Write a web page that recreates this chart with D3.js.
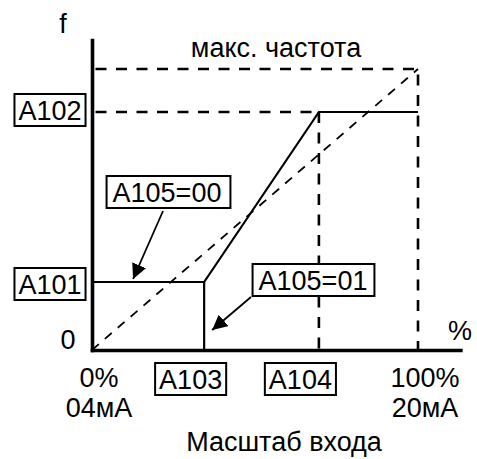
<!DOCTYPE html>
<html>
<head>
<meta charset="utf-8">
<script src="https://cdn.jsdelivr.net/npm/d3@7"></script>
<style>
  html, body { margin: 0; padding: 0; background: #fff; }
  svg { display: block; }
  text { font-family: "Liberation Sans", Arial, sans-serif; font-size: 27px; fill: #000; }
</style>
</head>
<body>
<svg id="chart" width="477" height="459"></svg>
<script>
// Input scale in percent, output frequency in percent of the maximum frequency
const inputParams = ["A103", "A104"];
const inputValues = [34.4, 69.6];
const freqParams = ["A101", "A102"];
const freqValues = [24.2, 84.7];
const maxInput = 100;
const maxFreq = 100;
const inputTickLabels = [["0%", "04мА"], ["100%", "20мА"]];
const modeLabels = ["A105=00", "A105=01"];

const svg = d3.select("#chart");
const x = d3.scaleLinear().domain([0, maxInput]).range([92, 418]);
const y = d3.scaleLinear().domain([0, maxFreq]).range([350, 69]);

const [a103, a104] = inputValues;
const [a101, a102] = freqValues;

// Reference lines (dashed)
const dashed = svg.append("g").attr("fill", "none").attr("stroke", "#000");
const line = d3.line().x(d => x(d[0])).y(d => y(d[1]));
dashed.append("path")
  .attr("d", line([[0, maxFreq], [maxInput, maxFreq], [maxInput, 0]]))
  .attr("stroke-width", 2.6).attr("stroke-dasharray", "11,9.5").attr("stroke-dashoffset", 17);
dashed.append("path")
  .attr("d", line([[0, a102], [a104, a102]]))
  .attr("stroke-width", 2.6).attr("stroke-dasharray", "11,9.5").attr("stroke-dashoffset", 17);
dashed.append("path")
  .attr("d", line([[a104, a102], [a104, 0]]))
  .attr("stroke-width", 2.6).attr("stroke-dasharray", "11,9.5").attr("stroke-dashoffset", 0);
// Proportional characteristic 0..100%
dashed.append("path")
  .attr("d", line([[0, 0], [maxInput, maxFreq]]))
  .attr("stroke-width", 1.8).attr("stroke-dasharray", "9,8");

// Characteristic curve (solid)
const solid = svg.append("g").attr("fill", "none").attr("stroke", "#000").attr("stroke-width", 2.2);
solid.append("path").attr("d", line([[0, a101], [a103, a101], [a104, a102], [maxInput, a102]]));
solid.append("path").attr("d", line([[a103, a101], [a103, 0]]));

// Axes extend slightly past the 100% marks
const xAxisScale = d3.scaleLinear().domain([0, 113]).range([x(0), x(113)]);
const yAxisScale = d3.scaleLinear().domain([0, 110.3]).range([y(0), y(110.3)]);
svg.append("g").attr("transform", `translate(0,${y(0)})`)
  .call(d3.axisBottom(xAxisScale).tickValues([]).tickSizeOuter(0))
  .call(g => g.select(".domain").attr("stroke-width", 3.6).attr("stroke-linecap", "square"));
svg.append("g").attr("transform", `translate(${x(0)},0)`)
  .call(d3.axisLeft(yAxisScale).tickValues([]).tickSizeOuter(0))
  .call(g => g.select(".domain").attr("stroke-width", 3.6).attr("stroke-linecap", "square"));

// Boxed parameter label: text centred at cx, box from top to top+32
function boxLabel(label, cx, top, padL, padR) {
  const g = svg.append("g");
  const t = g.append("text").attr("x", cx).attr("y", top + 26).attr("text-anchor", "middle").text(label);
  const bb = t.node().getBBox();
  g.insert("rect", "text")
    .attr("x", bb.x - padL).attr("y", top)
    .attr("width", bb.width + padL + padR).attr("height", 32)
    .attr("fill", "#fff").attr("stroke", "#000").attr("stroke-width", 2);
  return g;
}

// Frequency parameters on the vertical axis
boxLabel(freqParams[1], x(0) - 42, y(a102) - 18, 4, 4);
boxLabel(freqParams[0], x(0) - 42, y(a101) - 14, 4, 4);
// Input parameters under the horizontal axis
boxLabel(inputParams[0], x(a103) - 13.5, y(0) + 13, 4, 4);
boxLabel(inputParams[1], x(a104) - 18.5, y(0) + 13, 4, 4);

// Mode callouts
boxLabel(modeLabels[0], 167, y(0) - 174, 6, 9);
boxLabel(modeLabels[1], 313, y(0) - 86, 6, 7);

// Arrows from callouts to the curve
const defs = svg.append("defs");
defs.append("marker").attr("id", "ah").attr("viewBox", "0 0 10 10")
  .attr("refX", 10).attr("refY", 5).attr("markerWidth", 15).attr("markerHeight", 15)
  .attr("markerUnits", "userSpaceOnUse").attr("orient", "auto")
  .append("path").attr("d", "M0,0L10,5L0,10Z").attr("fill", "#000");
const arrows = svg.append("g").attr("stroke", "#000").attr("stroke-width", 1.8);
arrows.append("line")
  .attr("x1", 163).attr("y1", y(0) - 139)
  .attr("x2", x(12.6)).attr("y2", y(a101) - 3)
  .attr("marker-end", "url(#ah)");
arrows.append("line")
  .attr("x1", 251).attr("y1", y(0) - 53)
  .attr("x2", x(a103) + 8).attr("y2", y(7.1))
  .attr("marker-end", "url(#ah)");

// Axis annotations
svg.append("text").attr("x", 63).attr("y", 33).attr("text-anchor", "middle").text("f");
svg.append("text").attr("x", 276).attr("y", 57).attr("text-anchor", "middle").text("макс. частота");
svg.append("text").attr("x", x(0) - 24).attr("y", y(0) - 1).attr("text-anchor", "middle").text("0");
svg.append("text").attr("x", 460).attr("y", 340).attr("text-anchor", "middle").text("%");

[[0, inputTickLabels[0]], [maxInput, inputTickLabels[1]]].forEach(([v, lbls]) => {
  lbls.forEach((s, i) => {
    svg.append("text").attr("x", x(v) + 7).attr("y", 387 + i * 30)
      .attr("text-anchor", "middle").text(s);
  });
});

svg.append("text").attr("x", 284).attr("y", 451).attr("text-anchor", "middle").text("Масштаб входа");
</script>
</body>
</html>
